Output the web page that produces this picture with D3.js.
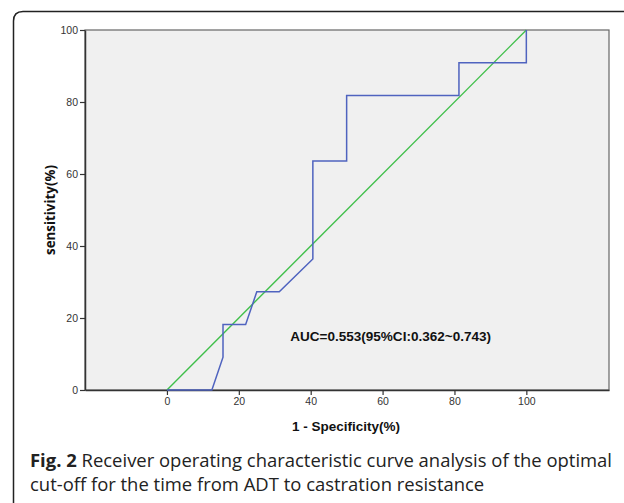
<!DOCTYPE html>
<html>
<head>
<meta charset="utf-8">
<script src="https://cdn.jsdelivr.net/npm/d3@7"></script>
<style>
  body { margin: 0; background: #fff; }
  svg { display: block; }
</style>
</head>
<body>
<div id="chart"></div>
<script>
// ROC curve points: 1 - specificity (%) and sensitivity (%)
var fprValues = [0, 12.5, 15.6, 15.6, 21.9, 25, 31.25, 40.6, 40.6, 50, 50, 81.25, 81.25, 100, 100];
var tprValues = [0, 0, 9.1, 18.2, 18.2, 27.3, 27.3, 36.4, 63.6, 63.6, 81.8, 81.8, 90.9, 90.9, 100];
var refLine = [[0, 0], [100, 100]];
var xTicks = [0, 20, 40, 60, 80, 100];
var yTicks = [0, 20, 40, 60, 80, 100];
var aucLabel = "AUC=0.553(95%CI:0.362~0.743)";
var captionBold = "Fig. 2";
var captionLine1 = " Receiver operating characteristic curve analysis of the optimal";
var captionLine2 = "cut-off for the time from ADT to castration resistance";

var W = 624, H = 503;
var margin = { top: 30, right: 15, bottom: 113, left: 85 };
var width = W - margin.left - margin.right,
	height = H - margin.top - margin.bottom;

var svg = d3.select("#chart").append("svg")
	.attr("width", W)
	.attr("height", H);

// scale a text's font size so it spans the wanted width
function fitWidth(sel, target) {
	var fs = parseFloat(sel.style("font-size"));
	var len = sel.node().getComputedTextLength();
	sel.style("font-size", (fs * target / len).toFixed(2) + "px");
	return fs * target / len;
}

// outer figure frame (rounded top-left corner, runs off the right and bottom)
svg.append("path")
	.attr("d", "M13.5," + H + " L13.5,21 Q13.5,11.5 23,11.5 L" + W + ",11.5")
	.attr("fill", "none")
	.attr("stroke", "#222")
	.attr("stroke-width", 1.5);

var x = d3.scaleLinear().domain([-22.8, 123]).range([0, width]);
var y = d3.scaleLinear().domain([0, 100]).range([height, 0]);

var main = svg.append("g")
	.attr("transform", "translate(" + margin.left + "," + margin.top + ")");

// plot background + box
main.append("rect")
	.attr("width", width)
	.attr("height", height)
	.attr("fill", "#f0f0f0")
	.attr("stroke", "#666")
	.attr("stroke-width", 1.2);

var xAxis = d3.axisBottom(x).tickValues(xTicks).tickSizeInner(5).tickSizeOuter(0).tickPadding(3);
var yAxis = d3.axisLeft(y).tickValues(yTicks).tickSizeInner(5).tickSizeOuter(0).tickPadding(2);

var gx = main.append("g")
	.attr("class", "x axis")
	.attr("transform", "translate(0," + height + ")")
	.call(xAxis);
var gy = main.append("g")
	.attr("class", "y axis")
	.call(yAxis);

[gx, gy].forEach(function(g) {
	g.select(".domain").attr("stroke", "#333").attr("stroke-width", 1.5);
	g.selectAll(".tick line").attr("stroke", "#333").attr("stroke-width", 1.2);
	g.selectAll(".tick text")
		.attr("fill", "#333")
		.style("font-family", "Liberation Sans, Arial, sans-serif")
		.style("font-size", "10.5px");
});

// diagonal reference line
var line = d3.line()
	.x(function(d) { return x(d[0]); })
	.y(function(d) { return y(d[1]); });

main.append("path")
	.datum(refLine)
	.attr("d", line)
	.attr("fill", "none")
	.attr("stroke", "#3fbf4a")
	.attr("stroke-width", 1.4);

// ROC curve
var rocData = fprValues.map(function(v, i) { return [v, tprValues[i]]; });
main.append("path")
	.datum(rocData)
	.attr("d", line)
	.attr("fill", "none")
	.attr("stroke", "#4f63bf")
	.attr("stroke-width", 1.5);

// AUC annotation
var auc = main.append("text")
	.attr("x", x(34.3))
	.attr("y", y(13.6))
	.style("font-family", "Liberation Sans, Arial, sans-serif")
	.style("font-size", "12.5px")
	.style("font-weight", "bold")
	.attr("fill", "#111")
	.text(aucLabel);
fitWidth(auc, 201);

// axis titles
var xTitle = svg.append("text")
	.attr("x", 346)
	.attr("y", 431)
	.attr("text-anchor", "middle")
	.style("font-family", "Liberation Sans, Arial, sans-serif")
	.style("font-size", "12px")
	.style("font-weight", "bold")
	.attr("fill", "#111")
	.text("1 - Specificity(%)");
fitWidth(xTitle, 108);

var yTitle = svg.append("text")
	.attr("transform", "translate(55,210) rotate(-90)")
	.attr("text-anchor", "middle")
	.style("font-family", "Open Sans, sans-serif")
	.style("font-size", "12px")
	.style("font-weight", "bold")
	.attr("fill", "#111")
	.text("sensitivity(%)");
fitWidth(yTitle, 90);

// caption
var cap = svg.append("text")
	.attr("x", 30)
	.attr("y", 467)
	.style("font-family", "Open Sans, sans-serif")
	.style("font-size", "18px")
	.attr("fill", "#222");
cap.append("tspan").style("font-weight", "bold").text(captionBold);
cap.append("tspan").text(captionLine1);
var capSize = fitWidth(cap, 582);

svg.append("text")
	.attr("x", 30)
	.attr("y", 491)
	.style("font-family", "Open Sans, sans-serif")
	.style("font-size", capSize.toFixed(2) + "px")
	.attr("fill", "#222")
	.text(captionLine2);
</script>
</body>
</html>
